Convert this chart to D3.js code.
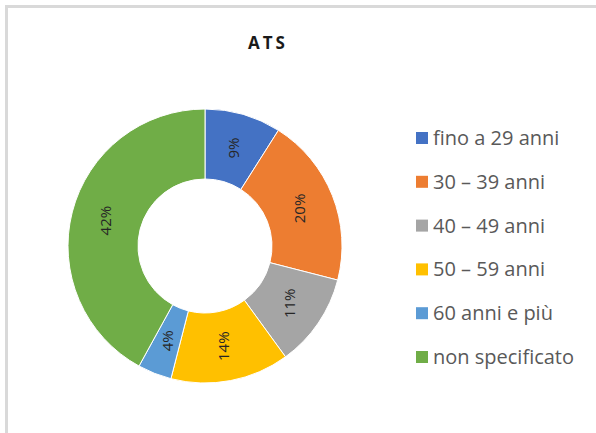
<!DOCTYPE html>
<html>
<head>
<meta charset="utf-8">
<script src="https://cdn.jsdelivr.net/npm/d3@7"></script>
<style>
  body { margin: 0; background: #fff; }
  svg { display: block; }
</style>
</head>
<body>
<svg id="chart"></svg>
<script>
let width = 596
let height = 433

// chart data
let categories = ['fino a 29 anni', '30 \u2013 39 anni', '40 \u2013 49 anni', '50 \u2013 59 anni', '60 anni e più', 'non specificato']
let values = [9, 20, 11, 14, 4, 42]
let colors = ['#4472c4', '#ed7d31', '#a5a5a5', '#ffc000', '#5b9bd5', '#70ad47']
let title = 'ATS'

let svg = d3.select('#chart')
    .attr('width', width)
    .attr('height', height)

// frame of the chart area (cut by the picture at right and bottom)
svg.append('rect')
    .attr('x', 6.5)
    .attr('y', 6.5)
    .attr('width', 640)
    .attr('height', 480)
    .attr('fill', 'none')
    .attr('stroke', '#d9d9d9')
    .attr('stroke-width', 3)

svg.append('text')
    .attr('x', 268)
    .attr('y', 49)
    .attr('text-anchor', 'middle')
    .attr('font-family', '"Open Sans", Lato, sans-serif')
    .attr('font-weight', 'bold')
    .attr('font-size', 17)
    .attr('letter-spacing', 3)
    .attr('fill', '#1a1a1a')
    .text(title)

let cx = 205
let cy = 246

let pie = d3.pie().sort(null).value(d => d)
let arc = d3.arc().innerRadius(67).outerRadius(137)
let arcs = pie(values)

let donut = svg.append('g')
    .attr('transform', 'translate(' + cx + ',' + cy + ')')

donut.selectAll('path')
    .data(arcs)
    .enter()
    .append('path')
    .attr('d', arc)
    .attr('fill', (d, i) => colors[i])
    .attr('stroke', '#fff')
    .attr('stroke-width', 1)

donut.selectAll('text.lbl')
    .data(arcs)
    .enter()
    .append('text')
    .attr('class', 'lbl')
    .attr('transform', d => {
        let c = arc.centroid(d)
        return 'translate(' + c[0] + ',' + c[1] + ') rotate(-90)'
    })
    .attr('text-anchor', 'middle')
    .attr('dy', '0.35em')
    .attr('font-family', '"Open Sans", Lato, sans-serif')
    .attr('font-size', 15)
    .attr('fill', '#262626')
    .text(d => d.data + '%')

let legendX = 416
let legendY0 = 138
let legendStep = 43.8

let legend = svg.selectAll('g.leg')
    .data(categories)
    .enter()
    .append('g')
    .attr('class', 'leg')
    .attr('transform', (d, i) => 'translate(' + legendX + ',' + (legendY0 + i * legendStep) + ')')

legend.append('rect')
    .attr('x', 0)
    .attr('y', -6)
    .attr('width', 12)
    .attr('height', 12)
    .attr('fill', (d, i) => colors[i])

legend.append('text')
    .attr('x', 17)
    .attr('y', 0)
    .attr('dy', '0.35em')
    .attr('font-family', '"Open Sans", Lato, sans-serif')
    .attr('font-size', 20)
    .attr('fill', '#595959')
    .text(d => d)
</script>
</body>
</html>
